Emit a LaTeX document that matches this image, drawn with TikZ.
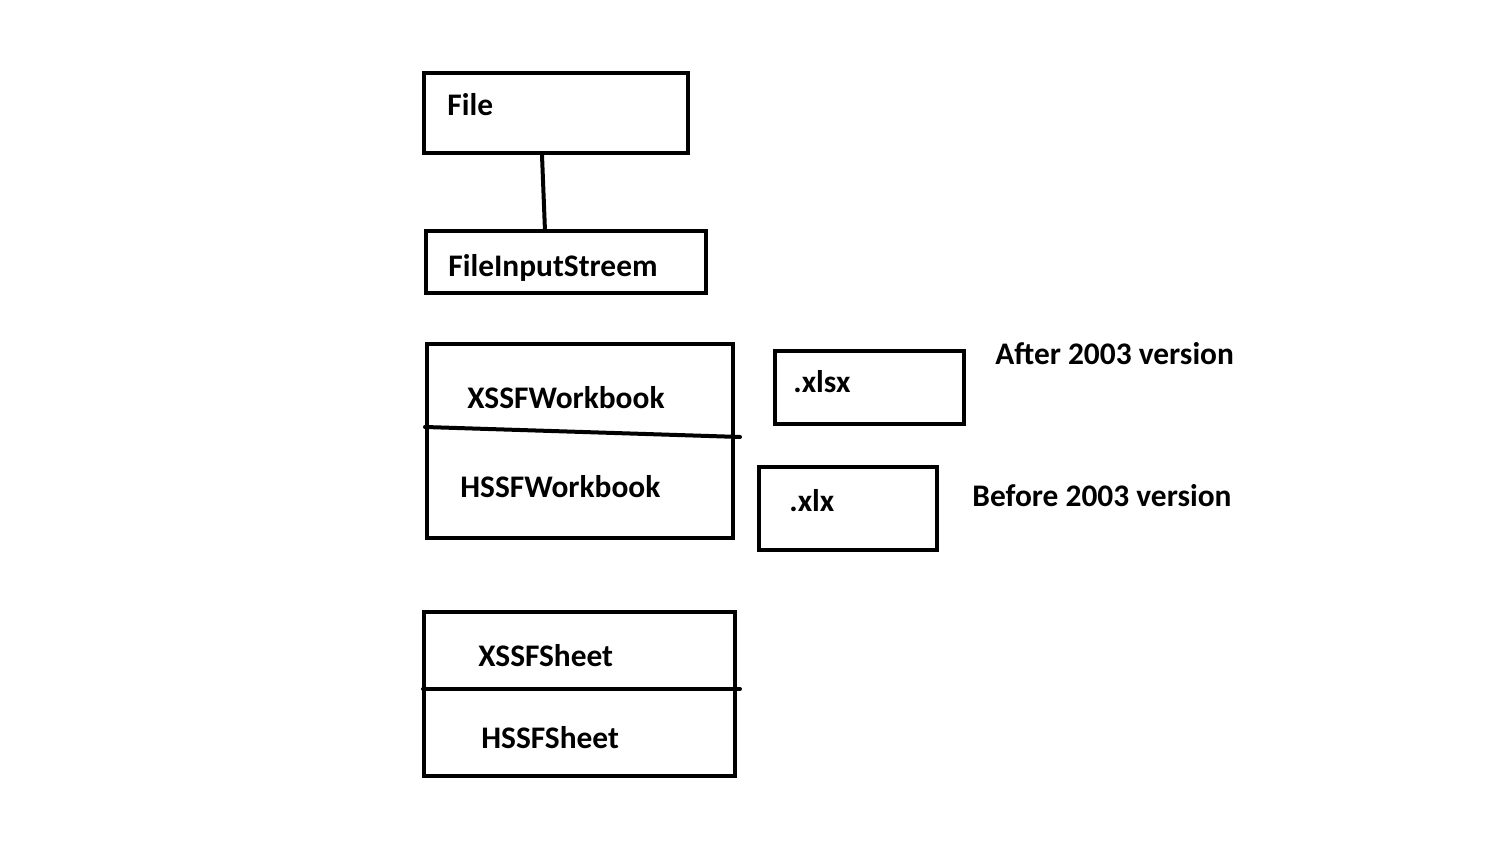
\documentclass[tikz,border=0pt]{standalone}
\usepackage{fontspec}
\setmainfont{Carlito}
\usetikzlibrary{calc}
\begin{document}
\begin{tikzpicture}[x=0.5pt,y=-0.5pt,
  box/.style={draw=black, line width=2pt, rectangle, inner sep=0pt},
  lbl/.style={anchor=base west, inner sep=0pt, font=\bfseries\fontsize{15.7}{18}\selectfont},
  conn/.style={draw=black, line width=2pt, line cap=round}]
\useasboundingbox[fill=white] (0,0) rectangle (1496,854);
\node[box, minimum width=132pt, minimum height=40pt] (file) at (556,113) {};
\node[box, minimum width=140pt, minimum height=31pt] (fis) at (566,262) {};
\node[box, minimum width=153pt, minimum height=97pt] (wb) at (580,441) {};
\node[box, minimum width=94.5pt, minimum height=36.5pt] (xlsx) at (869.5,387.5) {};
\node[box, minimum width=89pt, minimum height=41.5pt] (xlx) at (848,508.5) {};
\node[box, minimum width=155.5pt, minimum height=82pt] (sheet) at (579.5,694) {};

\coordinate (c1) at ($(file.south west)+(120,0)$);
\coordinate (c2) at ($(fis.north west)+(121,2)$);
\draw[conn] (c1) -- (c2);
\coordinate (w1) at ($(wb.north west)+(0,85)$);
\coordinate (w2) at ($(wb.north east)+(5,95)$);
\draw[conn] (w1) -- (w2);
\coordinate (s1) at ($(sheet.north west)+(1,79)$);
\coordinate (s2) at ($(sheet.north east)+(3,79)$);
\draw[conn] (s1) -- (s2);

\node[lbl] (tfile) at (447,116) {File};
\node[lbl] (tfis) at (448,277) {FileInputStreem};
\node[lbl] (txw) at (467,409) {XSSFWorkbook};
\node[lbl] (thw) at (460,498) {HSSFWorkbook};
\node[lbl] (txlsx) at (793,393) {.xlsx};
\node[lbl] (txlx) at (789,512) {.xlx};
\node[lbl] (tafter) at (995,365) {After 2003 version};
\node[lbl] (tbefore) at (972,507) {Before 2003 version};
\node[lbl] (txs) at (478,667) {XSSFSheet};
\node[lbl] (ths) at (481,749) {HSSFSheet};
\end{tikzpicture}
\end{document}
